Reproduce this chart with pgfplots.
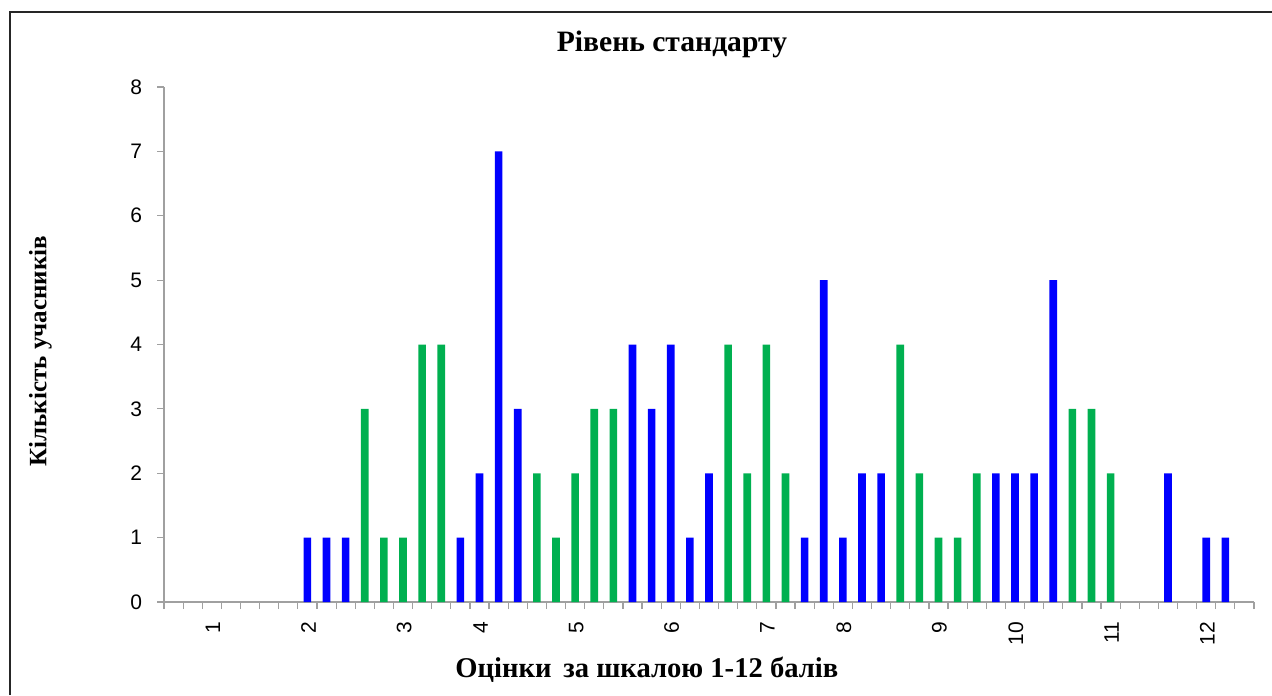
\documentclass[border=0pt]{standalone}
\usepackage{pgfplots}
\pgfplotsset{compat=1.18}
\usepackage{fontspec}
\setmainfont{Liberation Serif}
\newfontfamily\sansf{Liberation Sans}
\definecolor{barblue}{RGB}{0,0,255}
\definecolor{bargreen}{RGB}{0,176,80}
\definecolor{axgray}{RGB}{160,160,160}
\begin{document}
\begin{tikzpicture}
\useasboundingbox (0,0) rectangle (636pt,347.5pt);
\draw[line width=1pt, black!85] (5pt,0pt) -- (5pt,341.5pt) -- (636pt,341.5pt);
\begin{axis}[
  at={(82pt,46.5pt)}, anchor=south west,
  scale only axis, width=545pt, height=257.5pt,
  xmin=0, xmax=57, ymin=0, ymax=8,
  axis lines*=left,
  axis line style={axgray, line width=0.7pt},
  tick style={axgray, line width=0.6pt},
  tick align=outside,
  xtick={0,...,57}, xticklabels={},
  major tick length=3.5pt,
  extra x ticks={2.5,7.5,12.5,16.5,21.5,26.5,31.5,35.5,40.5,44.5,49.5,54.5},
  extra x tick labels={1,2,3,4,5,6,7,8,9,10,11,12},
  extra x tick style={major tick length=0pt,
     xticklabel style={yshift=-6.5pt, xshift=0.5pt, rotate=90, anchor=east}},
  ytick={0,...,8},
  yticklabel style={xshift=-4pt},
  ticklabel style={font=\sansf\fontsize{10.5}{12}\selectfont},
  /pgf/number format/assume math mode=true,
  every axis title shift=0pt,
  title={Рівень стандарту},
  title style={at={(axis description cs:0.466,1.0835)}, anchor=center,
     font=\bfseries\fontsize{14.8}{16}\selectfont},
  xlabel={Оцінки\, за шкалою 1-12 балів},
  xlabel style={at={(axis description cs:0.443,-0.132)}, anchor=center,
     font=\bfseries\fontsize{14.3}{16}\selectfont},
  ylabel={Кількість учасників},
  ylabel style={at={(axis description cs:-0.1135,0.487)}, anchor=center, rotate=0,
     font=\bfseries\fontsize{12.5}{14}\selectfont},
  ybar, bar width=3.8pt, bar shift=0pt,
  clip=false,
]
\addplot[fill=barblue, draw=none] coordinates {
 (7.5,1) (8.5,1) (9.5,1) (15.5,1) (16.5,2) (17.5,7) (18.5,3)
 (24.5,4) (25.5,3) (26.5,4) (27.5,1) (28.5,2)
 (33.5,1) (34.5,5) (35.5,1) (36.5,2) (37.5,2)
 (43.5,2) (44.5,2) (45.5,2) (46.5,5)
 (52.5,2) (54.5,1) (55.5,1)
};
\addplot[fill=bargreen, draw=none] coordinates {
 (10.5,3) (11.5,1) (12.5,1) (13.5,4) (14.5,4)
 (19.5,2) (20.5,1) (21.5,2) (22.5,3) (23.5,3)
 (29.5,4) (30.5,2) (31.5,4) (32.5,2)
 (38.5,4) (39.5,2) (40.5,1) (41.5,1) (42.5,2)
 (47.5,3) (48.5,3) (49.5,2)
};
\end{axis}
\end{tikzpicture}
\end{document}
